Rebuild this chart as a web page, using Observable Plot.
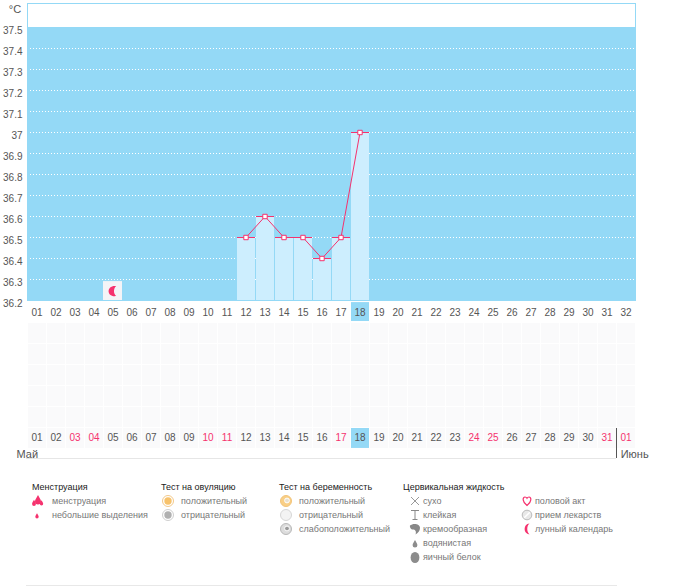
<!DOCTYPE html>
<html lang="ru">
<head>
<meta charset="utf-8">
<script src="https://cdn.jsdelivr.net/npm/d3@7"></script>
<script src="https://cdn.jsdelivr.net/npm/@observablehq/plot@0.6"></script>
<style>
html,body{margin:0;padding:0;background:#fff;width:673px;height:587px;overflow:hidden;font-family:"Liberation Sans",Arial,sans-serif}
#chart{position:relative;width:673px;height:587px}
#chart svg.plot{position:absolute;left:0;overflow:visible}
.lg{position:absolute;top:480px;font-size:9px;color:#777;line-height:14px;white-space:nowrap}
.lg b{display:block;font-weight:normal;color:#222;height:14px}
.lg div{position:relative;height:14px;padding-left:var(--tx)}
.lg div svg{position:absolute;left:0;top:0;width:14px;height:14px}
#bottomline{position:absolute;left:26px;top:585px;width:591px;height:1px;background:#e8e8e8}
</style>
</head>
<body>
<div id="chart"></div>
<script>
// top chart
const dayKeys = d3.range(1, 33).map(d => String(d).padStart(2, "0"));
const tempTicks = [36.2,36.3,36.4,36.5,36.6,36.7,36.8,36.9,37,37.1,37.2,37.3,37.4,37.5];
const gridTemps = [36.2,36.3,36.4,36.5,36.6,36.7,36.8,36.9,37,37.1,37.2,37.3,37.4];
const obsDays = ["12","13","14","15","16","17","18"];
const obsTemps = [36.5,36.6,36.5,36.5,36.4,36.5,37.0];
const moonDay = "05";
const todayKey = "18";
const obs = obsDays.map((day,i)=>({day,temp:obsTemps[i]}));

// lower grid
const monthDayLabels = ["01","02","03","04","05","06","07","08","09","10","11","12","13","14","15","16","17","18","19","20","21","22","23","24","25","26","27","28","29","30","31","01"];
const redLabelIndex = [2,3,9,10,16,23,24,30,31];
const todayIndex = 17;
const rowIndex = [0,1,2,3,4,5];
const monthNames = ["Май","Июнь"];

// legend
const groupTitles = ["Менструация","Тест на овуляцию","Тест на беременность","Цервикальная жидкость",""];
const groupLabels = [
 ["менструация","небольшие выделения"],
 ["положительный","отрицательный"],
 ["положительный","отрицательный","слабоположительный"],
 ["сухо","клейкая","кремообразная","водянистая","яичный белок"],
 ["половой акт","прием лекарств","лунный календарь"]
];

const pink = "#f5326e", blue = "#94d9f6", ink = "#555";
const moon = {draw(c,size){const r=Math.sqrt(size);c.moveTo(r*0.6,-r*0.95);c.bezierCurveTo(-r*1.3,-r*1.2,-r*1.3,r*1.2,r*0.6,r*0.95);c.bezierCurveTo(r*0.05,r*0.45,r*0.05,-r*0.45,r*0.6,-r*0.95);c.closePath();}};
const chart = document.getElementById("chart");

const top_ = Plot.plot({
  width:673,height:323,
  marginLeft:27,marginRight:38,marginTop:3,marginBottom:23,
  style:{background:"transparent",fontFamily:"Liberation Sans, Arial, sans-serif",fontSize:"10px",color:ink},
  x:{type:"band",domain:dayKeys,padding:0,range:[27,635]},
  y:{domain:[36.2,37.6143],range:[300,3]},
  marks:[
    Plot.barY(dayKeys,{x:d=>d,y1:36.2,y2:37.5,fill:blue}),
    Plot.ruleY(gridTemps,{stroke:"#fff",strokeDasharray:"1,2",strokeWidth:1}),
    Plot.barY([moonDay],{x:d=>d,y1:36.2,y2:36.29,fill:"#f4f4f7"}),
    Plot.dot([moonDay],{x:d=>d,y:36.245,symbol:moon,r:3,fill:pink}),
    Plot.barY(obs,{x:"day",y1:36.2,y2:"temp",fill:"#cdeefe",insetLeft:1}),
    Plot.barY([todayKey],{x:d=>d,y1:36.1,y2:36.19,fill:blue,insetLeft:1}),
    Plot.tickY(obs,{x:"day",y:"temp",stroke:pink,insetLeft:1}),
    Plot.line(obs,{x:"day",y:"temp",stroke:pink,strokeWidth:1}),
    Plot.dot(obs,{x:"day",y:"temp",symbol:"square",r:2.5,fill:"#fff",stroke:pink,strokeWidth:1}),
    Plot.frame({stroke:blue,strokeWidth:1}),
    Plot.axisX({tickSize:0,tickPadding:8,label:null,fontSize:10,fill:ink}),
    Plot.axisY(tempTicks,{tickSize:0,tickPadding:5,dy:3,label:null,fontSize:10,fill:ink,
      tickFormat:d=>d===37?"37":d.toFixed(1)}),
    Plot.text(["°C"],{x:()=>"01",y:37.585,dx:-22,fontSize:11,fill:ink})
  ]
});
top_.style.top="0px";
chart.appendChild(top_);

const low = Plot.plot({
  width:673,height:147,
  marginLeft:27,marginRight:38,marginTop:0,marginBottom:0,
  style:{background:"transparent",fontFamily:"Liberation Sans, Arial, sans-serif",fontSize:"10px",color:ink},
  x:{type:"linear",domain:[0,32],range:[27,635],axis:null},
  y:{type:"linear",domain:[0,7],range:[0,147],axis:null},
  marks:[
    Plot.rect(d3.cross(dayKeys.map((_,i)=>i),rowIndex),{x1:d=>d[0],x2:d=>d[0]+1,y1:d=>d[1],y2:d=>d[1]+1,
      fill:"#fafafb",insetLeft:1,insetBottom:1}),
    Plot.rect([todayIndex],{x1:d=>d,x2:d=>d+1,y1:5,y2:5.95,fill:blue,insetLeft:1}),
    Plot.ruleY([6.43],{x1:-0.05,x2:31,stroke:"#e6e6e6"}),
    Plot.ruleX([31],{y1:5,y2:6.43,stroke:"#555"}),
    Plot.text(monthDayLabels,{x:(d,i)=>i+0.5,y:5.45,text:d=>d,fontSize:10,
      fill:(d,i)=>redLabelIndex.includes(i)?pink:ink}),
    Plot.text([monthNames[0]],{x:-0.58,y:6.22,fontSize:11,fill:ink,textAnchor:"start"}),
    Plot.text([monthNames[1]],{x:31.22,y:6.22,fontSize:11,fill:ink,textAnchor:"start"})
  ]
});
low.style.top="323px";
chart.appendChild(low);

// legend icon drawings
const drop = (x,y,s,f)=>`<path transform="translate(${x} ${y}) scale(${s})" fill="${f}" d="M0-4C1.2-1.6 2.4-.4 2.4 1.2A2.4 2.4 0 0 1-2.4 1.2C-2.4-.4-1.2-1.6 0-4Z"/>`;
const ring = (f,s)=>`<circle cx="7" cy="7" r="5.5" fill="#fff" stroke="${s}"/><circle cx="7" cy="7" r="3.7" fill="${f}"/>`;
const blob = (f,s,inner)=>`<circle cx="7" cy="7" r="5.5" fill="${f}" stroke="${s}"/>${inner?`<circle cx="8" cy="6.5" r="2.4" fill="${inner}" stroke="#fff"/>`:""}`;
const icons = [
 [drop(8,6,1.25,pink)+drop(4,9,.8,pink)+drop(11.5,9,.7,pink), drop(7,8,.7,pink)],
 [ring("#f7c26b","#f3c98a"),ring("#b0b0b0","#cfcfcf")],
 [blob("#f9cf86","#f2c47a","#e8e0d0"),blob("#f3f3f3","#d6d6d6"),blob("#dcdcdc","#b8b8b8","#9a9a9a")],
 [`<path d="M3 3l8 8M11 3l-8 8" stroke="#999" fill="none"/>`,
  `<path d="M3 2.5h8M7 2.5v9M4.5 11.5h5" stroke="#888" fill="none"/>`,
  `<path d="M2 3.5C5 .8 12 1.5 12 6c0 3-2 5-4.5 6.5C8.5 9.5 7.5 7.5 4.5 7.5 3 7.5 1.5 5 2 3.5Z" fill="#888"/>`,
  drop(7,8,1,"#8c8c8c"),
  `<ellipse cx="7" cy="7.5" rx="4.4" ry="5.6" fill="#8c8c8c"/>`],
 [`<path d="M7 11.5C2 8 2.5 3 5 3c1 0 1.6.6 2 1.3C7.400 3.600 8 3 9 3c2.500 0 3 5-2 8.500Z" fill="#fff" stroke="${pink}" stroke-width="1.200"/>`,
  `<circle cx="7" cy="7" r="4.800" fill="#e8e8e8" stroke="#bbb"/><path d="M4.200 9.800L9.800 4.200" stroke="#fff" stroke-width="1.500"/>`,
  `<path d="M9.500 1.600C3 1.600 3 12.400 9.500 12.400C6.500 10 6.500 4 9.500 1.600Z" fill="${pink}"/>`]
];
const colLeft = [30,161,279,408,520];
const colTextPad = [22,20,20,15,15];
groupTitles.forEach((title,g)=>{
  const el=document.createElement("div");
  el.className="lg";
  el.style.left=colLeft[g]+"px";
  el.style.setProperty("--tx",colTextPad[g]+"px");
  const b=document.createElement("b");
  b.textContent=title;
  if(g===3) b.style.marginLeft="-5px";
  if(g===0) b.style.marginLeft="2px";
  el.appendChild(b);
  groupLabels[g].forEach((label,i)=>{
    const row=document.createElement("div");
    row.innerHTML=`<svg viewBox="0 0 14 14">${icons[g][i]}</svg>`;
    row.appendChild(document.createTextNode(label));
    el.appendChild(row);
  });
  chart.appendChild(el);
});
const bl=document.createElement("div");bl.id="bottomline";chart.appendChild(bl);
</script>
</body>
</html>
